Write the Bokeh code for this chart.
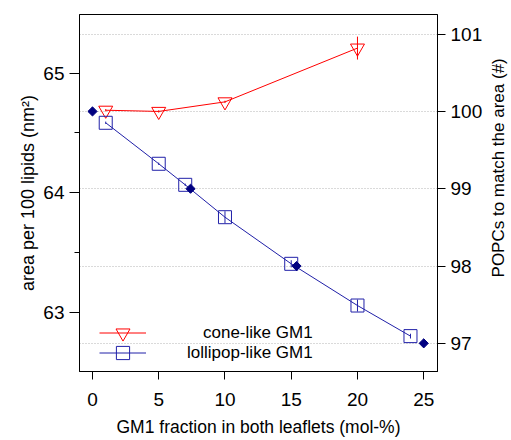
from math import pi
from bokeh.plotting import figure
from bokeh.layouts import row
from bokeh.models import Range1d, LinearAxis, FixedTicker, Grid, Legend, LegendItem, Label
from bokeh.embed import file_html
from bokeh.resources import INLINE

# ---- data ----
cone_x = [1, 5, 10, 20]
cone_area = [64.69, 64.68, 64.76, 65.21]
cone_err = [0.01, 0.01, 0.01, 0.096]

lolli_x = [1, 5, 7, 10, 15, 20, 24]
lolli_area = [64.585, 64.242, 64.066, 63.795, 63.405, 63.056, 62.80]
lolli_err = [0.01, 0.01, 0.01, 0.05, 0.03, 0.05, 0.02]

popc_x = [0, 7.4, 15.4, 25]
popc_n = [100, 99, 98, 97]

area_per_popc = 0.6468  # nm^2 per POPC, links the two y axes

x_ticks = [0, 5, 10, 15, 20, 25]
left_ticks = [63, 64, 65]
left_minor = [63.5, 64.5]
right_ticks = [97, 98, 99, 100, 101]

x_lo, x_hi = -0.98, 26.04
left_lo, left_hi = 62.504, 65.491

RED = "#ff0000"
BLUE = "#2020a8"
NAVY = "#000080"
FONT = "Liberation Sans"
FS = "17px"
TFS = "19px"

p = figure(width=488, height=440,
           x_range=Range1d(x_lo, x_hi), y_range=Range1d(left_lo, left_hi),
           output_backend="svg", toolbar_location=None,
           min_border_left=79, min_border_right=51,
           min_border_top=14, min_border_bottom=69)
p.extra_y_ranges = {"right": Range1d(left_lo / area_per_popc, left_hi / area_per_popc)}

p.xgrid.visible = False
p.ygrid.visible = False
p.outline_line_color = "black"
p.outline_line_width = 1
p.background_fill_color = "white"
p.border_fill_color = "white"

grid = Grid(dimension=1, ticker=FixedTicker(ticks=right_ticks), y_range_name="right",
            grid_line_color="#b4b4b4", grid_line_dash="1 2", grid_line_width=1)
p.add_layout(grid)

def style_axis(ax):
    ax.axis_line_color = "black"
    ax.major_tick_line_color = "black"
    ax.minor_tick_line_color = "black"
    ax.major_tick_in = 0
    ax.minor_tick_in = 0
    ax.major_label_text_font = FONT
    ax.major_label_text_font_size = TFS
    ax.major_label_text_color = "black"
    ax.axis_label_text_font = FONT
    ax.axis_label_text_font_size = FS
    ax.axis_label_text_font_style = "normal"
    ax.axis_label_text_color = "black"

xa = p.xaxis[0]
style_axis(xa)
xa.ticker = FixedTicker(ticks=x_ticks)
xa.major_tick_out = 8
xa.minor_tick_out = 0
xa.major_label_standoff = 13
xa.axis_label = "GM1 fraction in both leaflets (mol-%)"
xa.axis_label_text_font_size = "17.5px"
xa.axis_label_standoff = 8

ya = p.yaxis[0]
style_axis(ya)
ya.ticker = FixedTicker(ticks=left_ticks, minor_ticks=left_minor)
ya.major_tick_out = 10
ya.minor_tick_out = 5
ya.major_label_standoff = 5
ya.axis_label = "area per 100 lipids (nm²)"
ya.axis_label_text_font_size = "18px"
ya.axis_label_standoff = 2

ra = LinearAxis(y_range_name="right", ticker=FixedTicker(ticks=right_ticks))
style_axis(ra)
ra.major_tick_out = 8
ra.minor_tick_out = 0
ra.major_label_standoff = 5
p.add_layout(ra, "right")

# cone-like GM1
r_line = p.line(cone_x, cone_area, line_color=RED, line_width=1)
r_tri = p.scatter(cone_x, cone_area, marker="inverted_triangle", size=14,
                  line_color=RED, fill_alpha=0, line_width=1)
p.segment(x0=cone_x, x1=cone_x,
          y0=[a - e for a, e in zip(cone_area, cone_err)],
          y1=[a + e for a, e in zip(cone_area, cone_err)],
          line_color=RED, line_width=1)

# lollipop-like GM1
b_line = p.line(lolli_x, lolli_area, line_color=BLUE, line_width=1)
b_sq = p.scatter(lolli_x, lolli_area, marker="square", size=13,
                 line_color=BLUE, fill_alpha=0, line_width=1)
p.segment(x0=lolli_x, x1=lolli_x,
          y0=[a - e for a, e in zip(lolli_area, lolli_err)],
          y1=[a + e for a, e in zip(lolli_area, lolli_err)],
          line_color=BLUE, line_width=1)

# pure POPC reference
p.scatter(popc_x, popc_n, y_range_name="right", marker="square", angle=pi / 4,
          size=6.5, fill_color=NAVY, line_color=NAVY)

def make_legend(label, rends, loc, standoff, gh):
    return Legend(items=[LegendItem(label=label, renderers=rends)], location=loc,
                  glyph_width=47, glyph_height=gh, label_height=20,
                  label_standoff=standoff, padding=0, margin=0, spacing=0,
                  border_line_color=None, background_fill_alpha=0,
                  label_text_font=FONT, label_text_font_size=FS,
                  label_text_color="black")

p.add_layout(make_legend("cone-like GM1", [r_line, r_tri], (20, 21), 57, 35))
p.add_layout(make_legend("lollipop-like GM1", [b_line, b_sq], (20, 2), 41, 33))

# narrow strip holding the right-hand axis title (reads bottom-to-top)
p2 = figure(width=23, height=440, x_range=Range1d(0, 23), y_range=Range1d(0, 440),
            output_backend="svg", toolbar_location=None,
            x_axis_location=None, y_axis_location=None,
            min_border=0, outline_line_color=None)
p2.xgrid.visible = False
p2.ygrid.visible = False
p2.background_fill_color = "white"
p2.border_fill_color = "white"
p2.add_layout(Label(x=10, y=251, text="POPCs to match the area (#)", angle=pi / 2,
                    text_align="center", text_baseline="middle",
                    text_font=FONT, text_font_size=FS, text_color="black"))

layout = row(p, p2)
open("out.html", "w").write(file_html(layout, INLINE))
